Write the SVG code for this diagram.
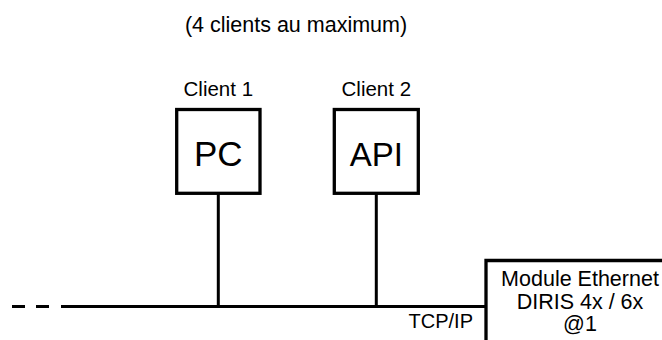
<svg xmlns="http://www.w3.org/2000/svg" width="662" height="340" viewBox="0 0 662 340">
<style>
text{font-family:"Liberation Sans",Arial,Helvetica,sans-serif;fill:#000}
.lbl{font-size:20.5px;text-anchor:middle}
.mod{font-size:21.5px;text-anchor:middle}
.big{font-size:35px;text-anchor:middle}
.box{fill:#fff;stroke:#000;stroke-width:3.3}
.ln{stroke:#000;stroke-width:3;fill:none}
</style>
<rect width="662" height="340" fill="#fff"/>
<text x="296" y="32" class="lbl" style="font-size:21.5px">(4 clients au maximum)</text>
<g id="connectors">
<line class="ln" x1="218.3" y1="193" x2="218.3" y2="306.5"/>
<line class="ln" x1="376.3" y1="193" x2="376.3" y2="306.5"/>
<line class="ln" x1="12" y1="306.5" x2="25" y2="306.5"/>
<line class="ln" x1="36" y1="306.5" x2="49" y2="306.5"/>
<line class="ln" x1="61" y1="306.5" x2="486" y2="306.5"/>
<text x="473" y="328" style="font-size:20px;text-anchor:end">TCP/IP</text>
</g>
<g id="pc">
<text x="218.3" y="96" class="lbl">Client 1</text>
<rect class="box" x="176.7" y="109.5" width="83.3" height="83.8"/>
<text x="218.3" y="166" class="big">PC</text>
</g>
<g id="api">
<text x="376.3" y="96" class="lbl">Client 2</text>
<rect class="box" x="334.3" y="109.5" width="84" height="83.8"/>
<text x="376.3" y="166" class="big" style="font-size:33px">API</text>
</g>
<g id="module">
<path class="box" d="M486 345 V260.5 H670"/>
<text x="580" y="286" class="mod">Module Ethernet</text>
<text x="580" y="309" class="mod">DIRIS 4x / 6x</text>
<text x="580" y="331" class="mod">@1</text>
</g>
</svg>
